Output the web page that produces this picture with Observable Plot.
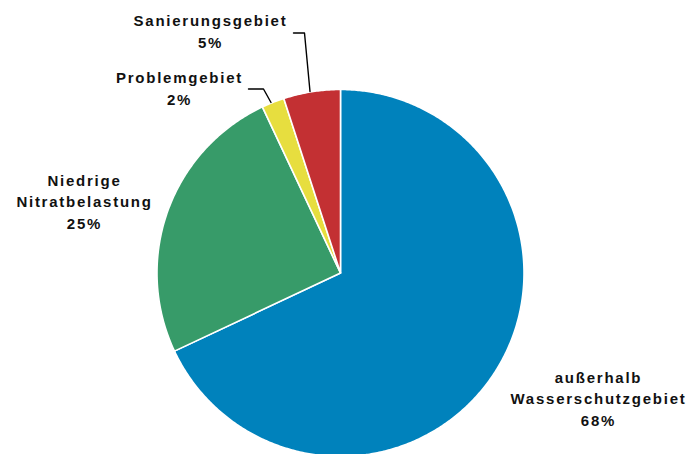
<!DOCTYPE html>
<html>
<head>
<meta charset="utf-8">
<script src="https://cdn.jsdelivr.net/npm/d3@7"></script>
<script src="https://cdn.jsdelivr.net/npm/@observablehq/plot@0.6"></script>
<style>
  html, body { margin: 0; padding: 0; background: #fff; }
  #chart { width: 687px; height: 454px; overflow: hidden; }
</style>
</head>
<body>
<div id="chart"></div>
<script>
// ---- data ----
const categories = ["außerhalb\nWasserschutzgebiet", "Niedrige\nNitratbelastung", "Problemgebiet", "Sanierungsgebiet"];
const shares = [68, 25, 2, 5];
const colors = ["#0082BC", "#379B69", "#E7DE3F", "#C33033"];

// ---- layout (pixels) ----
const W = 687, H = 454;
const cx = 340, cy = 272.5, R = 183.5;
const labelPos = [[597, 425], [83, 228], [178, 104], [209, 47]];
const leaders = [
  null,
  null,
  [[248, 88.5], [263, 88.5], [270.5, 102]],
  [[293, 32.5], [304, 32.5], [309.5, 91]]
];

// ---- geometry from data ----
const total = d3.sum(shares);
let acc = 0;
const slices = categories.map((name, i) => {
  const a0 = acc / total * 2 * Math.PI;
  acc += shares[i];
  const a1 = acc / total * 2 * Math.PI;
  const n = Math.max(2, Math.ceil((a1 - a0) * 180 / Math.PI * 2));
  const pts = [{x: cx, y: cy}];
  for (let k = 0; k <= n; k++) {
    const a = a0 + (a1 - a0) * k / n;
    pts.push({x: cx + R * Math.sin(a), y: cy - R * Math.cos(a)});
  }
  pts.push({x: cx, y: cy});
  return {name, value: shares[i], color: colors[i], pts};
});

const labels = slices.map((s, i) => ({
  text: `${s.name}\n${s.value}%`,
  x: labelPos[i][0],
  y: labelPos[i][1]
}));

const marks = [];
slices.forEach(s => {
  marks.push(Plot.line(s.pts, {x: "x", y: "y", fill: s.color, stroke: "white", strokeWidth: 1.6, strokeLinejoin: "round"}));
});
leaders.forEach(l => {
  if (l) marks.push(Plot.line(l, {x: d => d[0], y: d => d[1], stroke: "black", strokeWidth: 1.4}));
});
marks.push(Plot.text(labels, {
  x: "x", y: "y", text: "text",
  lineAnchor: "bottom", lineHeight: 1.42,
  textAnchor: "middle", dx: 1,
  fontSize: 15, fontWeight: "bold", fill: "#111"
}));

const chart = Plot.plot({
  width: W,
  height: H,
  margin: 0,
  x: {domain: [0, W], range: [0, W], axis: null},
  y: {domain: [0, H], range: [0, H], axis: null},
  style: {fontFamily: "'Liberation Sans', Arial, sans-serif", background: "white", overflow: "hidden", letterSpacing: "1.75px"},
  marks
});
document.getElementById("chart").appendChild(chart);
</script>
</body>
</html>
